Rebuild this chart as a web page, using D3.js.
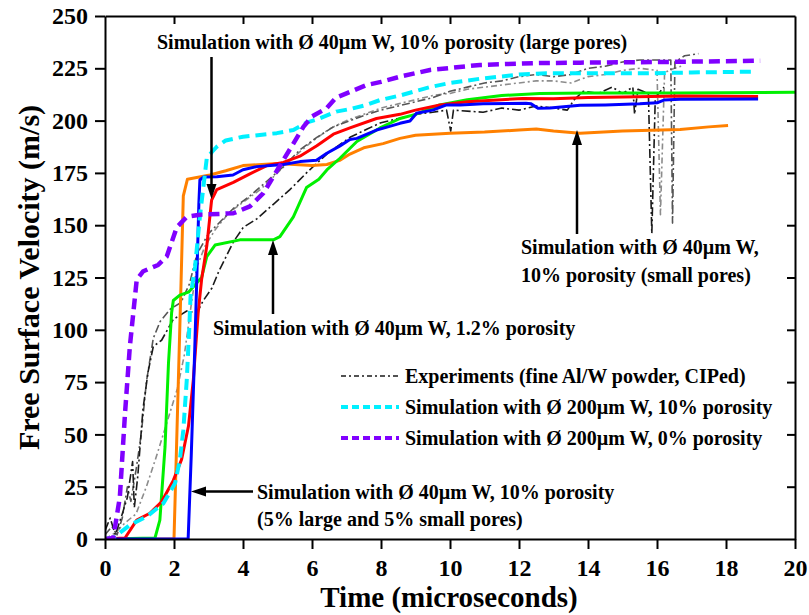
<!DOCTYPE html>
<html>
<head>
<meta charset="utf-8">
<script src="https://cdn.jsdelivr.net/npm/d3@7"></script>
<style>
  body { margin: 0; background: #fff; }
  svg { display: block; }
  text { font-family: "Liberation Serif", "Times New Roman", serif; font-weight: bold; fill: #000; }
</style>
</head>
<body>
<svg id="chart" width="809" height="615"></svg>
<script>
// Axis ticks
const xTicks = [0, 2, 4, 6, 8, 10, 12, 14, 16, 18, 20];
const yTicks = [0, 25, 50, 75, 100, 125, 150, 175, 200, 225, 250];

// Experimental traces (time in microseconds, velocity in m/s)
const expA = [[0,4],[0.15,10],[0.3,2],[0.5,12],[0.65,20],[0.8,37],[0.85,15],[0.95,30],[1.1,62],[1.25,80],[1.4,92],[1.64,95],[1.98,105],[2.37,109],[2.66,108],[2.85,114],[3.1,120],[3.3,128],[3.72,142],[4.01,149],[4.4,153],[4.88,160],[5.36,167],[5.84,175],[6.43,184],[7.1,192],[7.6,196],[8.0,199],[8.5,201],[9.0,203],[9.5,204],[9.9,205],[10.02,195],[10.1,205],[10.96,204],[11.5,206],[12.0,205],[12.5,207],[13.0,206],[13.4,205],[13.6,210],[13.86,214],[14.3,213],[14.7,216],[15.0,213],[15.3,216],[15.35,203],[15.45,215],[15.75,213],[15.85,146],[15.95,211],[16.2,216]];
const expB = [[0,2],[0.2,6],[0.35,2],[0.5,10],[0.65,25],[0.75,18],[0.9,33],[1.05,50],[1.2,75],[1.4,96],[1.6,104],[1.9,110],[2.2,113],[2.45,122],[2.66,136],[3.0,146],[3.24,150],[3.72,158],[4.2,164],[4.69,171],[5.17,178],[5.65,186],[6.14,192],[6.62,197],[7.1,200],[7.6,203],[8.0,205],[8.5,207],[9.0,209],[9.5,211],[10.0,214],[10.5,216],[11.0,218],[11.5,219],[12.0,221],[12.5,222],[13.0,221],[13.5,222],[14.0,225],[14.5,226],[15.0,228],[15.5,229],[16.0,229],[16.4,229],[16.45,151],[16.52,228],[16.8,231],[17.2,232]];
const expC = [[0,0],[0.3,3],[0.6,8],[0.9,12],[1.2,25],[1.5,40],[1.8,56],[2.1,72],[2.3,88],[2.5,112],[2.66,130],[2.9,140],[3.2,148],[3.6,156],[4.0,161],[4.5,167],[5.0,175],[5.5,183],[6.0,190],[6.5,196],[7.0,200],[7.5,203],[8.0,206],[8.5,208],[9.0,210],[9.5,212],[10.0,213],[10.5,215],[11.0,216],[11.5,217],[12.0,218],[12.5,219],[13.0,219],[13.5,218],[14.0,221],[14.5,222],[15.0,224],[15.5,225],[16.0,224],[16.1,155],[16.22,223],[16.5,225],[16.7,226]];

// Simulations
const sim40SmallPores = [[0,0],[2.0,0],[2.1,60],[2.2,120],[2.27,164],[2.39,172],[3.04,174],[3.5,176],[4.0,178.5],[5.0,179.5],[6.0,178.5],[6.43,179],[6.8,181],[7.1,184],[7.5,187],[8.06,189],[8.55,191.5],[9.0,193],[10.0,194],[11.0,194.5],[12.0,195.5],[12.5,196],[13.0,195],[13.77,194],[15.0,195],[16.67,195.8],[17.5,197],[18.06,197.6]];
const sim40Mixed = [[0,0],[2.41,0],[2.5,40],[2.6,90],[2.66,124],[2.72,160],[2.75,171.6],[2.85,173],[3.24,173.2],[3.71,174],[4.0,176.5],[4.4,178],[5.17,179],[5.65,180.4],[6.13,181],[6.43,184.4],[6.8,187.8],[7.1,191],[7.3,191.5],[7.87,195.5],[8.2,197],[8.55,198.7],[8.84,199.8],[9.03,203.5],[9.5,205],[9.9,207.5],[10.3,207.5],[10.96,208],[12.2,208.3],[12.35,208],[12.55,205.9],[12.9,206],[13.77,207.3],[14.5,207.5],[15.5,208],[16.0,208.5],[16.2,209.8],[16.67,210.2],[18.93,210.3]];
const sim40LargePores = [[0,0],[0.58,0.5],[0.92,9],[1.3,12.3],[1.64,17.8],[1.98,28],[2.22,38],[2.42,54],[2.56,76],[2.7,108],[2.8,124],[2.95,140],[3.09,162],[3.24,167],[3.72,170.5],[4.2,174.5],[4.69,178.5],[5.17,180],[5.65,183],[6.14,188],[6.62,193.5],[7.1,196.5],[7.87,201],[8.55,203],[9.0,205],[9.71,207.5],[10.5,209],[12.1,210.6],[13.0,210.5],[14.0,211],[15.0,211.3],[16.67,211.8],[18.93,211.5]];
const sim40Porosity12 = [[0,0],[1.45,0.5],[1.59,9],[1.74,44],[1.84,84],[1.93,108],[1.98,114],[2.17,116.6],[2.42,118],[2.8,125],[2.95,135],[3.19,140.5],[3.91,143],[4.88,143],[5.07,144.5],[5.46,154],[5.84,168],[6.2,172],[6.43,176.4],[6.81,182],[7.3,190],[7.97,196.5],[8.55,201],[9.0,203],[9.7,207.5],[10.5,210],[11.5,212],[12.6,213],[14.0,213.2],[16.67,213.2],[20,213.5]];
const sim200Porosity10 = [[0,0],[0.24,0.5],[0.72,6.7],[1.21,10.7],[1.69,17],[2.03,26.6],[2.17,37.8],[2.27,52],[2.37,76],[2.44,100],[2.48,116],[2.61,130],[2.75,154],[2.95,182],[3.1,185],[3.24,187.5],[3.5,190.5],[4.0,192.3],[4.98,194],[5.46,195.5],[5.84,199],[6.14,200.5],[6.7,204.3],[7.1,205.5],[7.58,207.5],[7.97,209.8],[8.55,212],[9.42,216],[10.0,218],[10.87,220],[12.0,222],[12.8,222.6],[15.7,222.6],[17.0,223],[18.8,223.4]];
const sim200Porosity0 = [[0,0],[0.24,0.5],[0.43,20],[0.58,60],[0.72,92],[0.87,116],[0.92,124],[1.11,128],[1.54,131],[1.79,135],[2.08,149],[2.37,154],[2.75,155],[3.72,155.7],[4.2,159],[4.59,165.3],[4.88,173.2],[5.17,181.2],[5.46,189],[5.75,197],[6.0,202],[6.43,206],[6.7,211],[7.0,213],[7.58,217],[8.0,218.5],[8.55,221],[9.42,224.2],[10.87,226.6],[12.5,227.5],[13.77,227.7],[16.0,228],[18.99,228.6]];

const legendLabels = [
  "Experiments (fine Al/W powder, CIPed)",
  "Simulation with \u00D8 200\u00B5m W, 10% porosity",
  "Simulation with \u00D8 200\u00B5m W, 0% porosity"
];

const margin = { left: 105, right: 14, top: 16, bottom: 76 };
const W = 809, H = 615;
const svg = d3.select("#chart");

const x = d3.scaleLinear().domain([0, 20]).range([margin.left, W - margin.right]);
const y = d3.scaleLinear().domain([0, 250]).range([H - margin.bottom, margin.top]);

const line = d3.line().x(d => x(d[0])).y(d => y(d[1]));

const plot = svg.append("g");
plot.append("defs").append("clipPath").attr("id", "clip")
  .append("rect").attr("x", x(0)).attr("y", y(250)).attr("width", x(20) - x(0)).attr("height", y(0) - y(250));

const curves = plot.append("g").attr("clip-path", "url(#clip)");

const seriesStyle = [
  { data: expC, color: "#8c8c8c", width: 1.6, dash: "6,3,2,3" },
  { data: expB, color: "#555555", width: 1.6, dash: "8,3,2,3" },
  { data: expA, color: "#1a1a1a", width: 1.6, dash: "9,3,2,3" },
  { data: sim40SmallPores, color: "#ff8000", width: 3 },
  { data: sim40Porosity12, color: "#00f000", width: 3 },
  { data: sim40LargePores, color: "#ff0000", width: 3 },
  { data: sim40Mixed, color: "#0000ff", width: 3 },
  { data: sim200Porosity10, color: "#00f0ff", width: 4, dash: "11,6" },
  { data: sim200Porosity0, color: "#8000ff", width: 4.5, dash: "11,6" }
];

seriesStyle.forEach(s => {
  curves.append("path")
    .datum(s.data)
    .attr("d", line)
    .attr("fill", "none")
    .attr("stroke", s.color)
    .attr("stroke-width", s.width)
    .attr("stroke-linejoin", "round")
    .attr("stroke-dasharray", s.dash || null);
});

// Axes with mirrored inner ticks on top and right
const axisStyle = g => {
  g.select(".domain").attr("stroke", "#000").attr("stroke-width", 2);
  g.selectAll(".tick line").attr("stroke", "#000").attr("stroke-width", 2);
};

svg.append("g").attr("transform", `translate(0,${y(0)})`)
  .call(d3.axisBottom(x).tickValues(xTicks).tickSize(10).tickSizeOuter(0).tickPadding(10))
  .call(axisStyle)
  .call(g => g.selectAll(".tick text").attr("font-size", 24).attr("font-family", null));

svg.append("g").attr("transform", `translate(${x(0)},0)`)
  .call(d3.axisLeft(y).tickValues(yTicks).tickSize(10).tickSizeOuter(0).tickPadding(7))
  .call(axisStyle)
  .call(g => g.selectAll(".tick text").attr("font-size", 24).attr("font-family", null));

svg.append("g").attr("transform", `translate(0,${y(250)})`)
  .call(d3.axisBottom(x).tickValues(xTicks.slice(1, -1)).tickSize(8).tickSizeOuter(0).tickFormat(""))
  .call(axisStyle);

svg.append("g").attr("transform", `translate(${x(20)},0)`)
  .call(d3.axisLeft(y).tickValues(yTicks.slice(1, -1)).tickSize(8).tickSizeOuter(0).tickFormat(""))
  .call(axisStyle);

// Axis titles
svg.append("text")
  .attr("x", (x(0) + x(20)) / 2 - 1).attr("y", 607)
  .attr("text-anchor", "middle").attr("font-size", 29)
  .text("Time (microseconds)");

svg.append("text")
  .attr("transform", `translate(39,${(y(0) + y(250)) / 2}) rotate(-90)`)
  .attr("text-anchor", "middle").attr("font-size", 30)
  .text("Free Surface Velocity (m/s)");

// Annotations with arrows
const arrowHead = (tx, ty, dir) => {
  // dir: direction the arrow points ("down", "up", "left")
  const L = 15, Hw = 5;
  let pts;
  if (dir === "down") pts = [[tx, ty], [tx - Hw, ty - L], [tx + Hw, ty - L]];
  else if (dir === "up") pts = [[tx, ty], [tx - Hw, ty + L], [tx + Hw, ty + L]];
  else pts = [[tx, ty], [tx + L, ty - Hw], [tx + L, ty + Hw]];
  svg.append("path").attr("d", d3.line()(pts) + "Z").attr("fill", "#000");
};
const shaft = (x1, y1, x2, y2) => svg.append("line")
  .attr("x1", x1).attr("y1", y1).attr("x2", x2).attr("y2", y2)
  .attr("stroke", "#000").attr("stroke-width", 2.5);

const annFont = 20;
svg.append("text").attr("x", 157).attr("y", 49).attr("font-size", annFont)
  .text("Simulation with \u00D8 40\u00B5m W, 10% porosity (large pores)");
shaft(211.5, 57, 211.5, 186); arrowHead(211.5, 199, "down");

svg.append("text").attr("x", 521).attr("y", 254).attr("font-size", annFont)
  .text("Simulation with \u00D8 40\u00B5m W,");
svg.append("text").attr("x", 521).attr("y", 282).attr("font-size", annFont)
  .text("10% porosity (small pores)");
shaft(577, 234, 577, 142); arrowHead(577, 130, "up");

svg.append("text").attr("x", 213).attr("y", 335).attr("font-size", annFont)
  .text("Simulation with \u00D8 40\u00B5m W, 1.2% porosity");
shaft(273, 314, 273, 252); arrowHead(273, 240, "up");

svg.append("text").attr("x", 257).attr("y", 499).attr("font-size", annFont)
  .text("Simulation with \u00D8 40\u00B5m W, 10% porosity");
svg.append("text").attr("x", 257).attr("y", 526).attr("font-size", annFont)
  .text("(5% large and 5% small pores)");
shaft(253, 491.5, 203, 491.5); arrowHead(191, 491.5, "left");

// Legend
const legendRows = [
  { color: "#1a1a1a", width: 1.6, dash: "5,3,2,3" },
  { color: "#00f0ff", width: 4, dash: "7,4" },
  { color: "#8000ff", width: 4, dash: "7,4" }
];
const legend = svg.append("g");
legendRows.forEach((r, i) => {
  const ly = 376 + i * 31;
  legend.append("line").attr("x1", 341).attr("x2", 399).attr("y1", ly).attr("y2", ly)
    .attr("stroke", r.color).attr("stroke-width", r.width).attr("stroke-dasharray", r.dash);
  legend.append("text").attr("x", 405).attr("y", ly).attr("dy", "0.35em")
    .attr("font-size", annFont).text(legendLabels[i]);
});
</script>
</body>
</html>
